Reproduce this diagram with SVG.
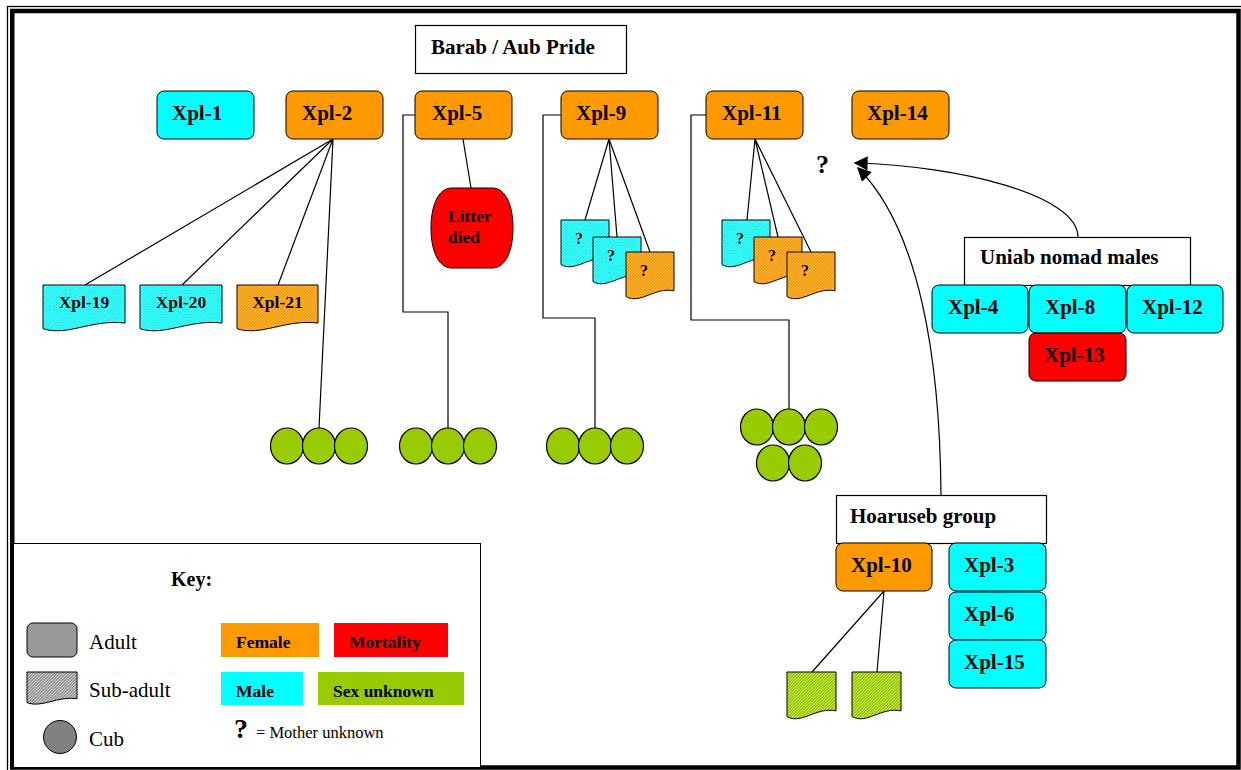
<svg xmlns="http://www.w3.org/2000/svg" width="1241" height="770" viewBox="0 0 1241 770">
<style>
.t{font-family:"Liberation Serif","Times New Roman",serif;font-weight:bold;fill:#000}
.l{font-size:21px}
.s{font-size:17.5px}
.q{font-size:16px}
.r{font-family:"Liberation Serif","Times New Roman",serif;font-size:21px;fill:#000}
.n{stroke:#000;stroke-width:1}
.c{fill:none;stroke:#000;stroke-width:1.2}
.box{fill:#fff;stroke:#000;stroke-width:1.2}
.cub{fill:#99CC00;stroke:#000;stroke-width:1.2}
</style>
<defs>
<pattern id="hc" width="3" height="3" patternUnits="userSpaceOnUse"><rect width="3" height="3" fill="#00FFFF"/><path d="M-1,1 L1,-1 M0,3 L3,0 M2,4 L4,2" stroke="#A8FFFF" stroke-width="0.8"/></pattern>
<pattern id="ho" width="3" height="3" patternUnits="userSpaceOnUse"><rect width="3" height="3" fill="#FF9900"/><path d="M-1,1 L1,-1 M0,3 L3,0 M2,4 L4,2" stroke="#FFC870" stroke-width="0.8"/></pattern>
<pattern id="hg" width="3" height="3" patternUnits="userSpaceOnUse"><rect width="3" height="3" fill="#99CC00"/><path d="M-1,1 L1,-1 M0,3 L3,0 M2,4 L4,2" stroke="#D0EC80" stroke-width="0.8"/></pattern>
<pattern id="hy" width="3" height="3" patternUnits="userSpaceOnUse"><rect width="3" height="3" fill="#999999"/><path d="M-1,1 L1,-1 M0,3 L3,0 M2,4 L4,2" stroke="#D8D8D8" stroke-width="0.8"/></pattern>
<marker id="ah" viewBox="0 0 10 10" refX="9" refY="5" markerWidth="16" markerHeight="14" markerUnits="userSpaceOnUse" orient="auto"><path d="M0,0 L10,5 L0,10 Z" fill="#000"/></marker>
</defs>
<rect x="0" y="0" width="1241" height="770" fill="#fff"/>
<rect x="7.5" y="6.5" width="1240" height="770" fill="none" stroke="#000" stroke-width="1.3"/>
<rect x="12.25" y="11" width="1226.25" height="756.5" fill="none" stroke="#000" stroke-width="4.5"/>

<g id="connectors">
<path class="c" d="M333,139 L85,285 M333,139 L182,285 M333,139 L278,285 M333,139 L319,428"/>
<path class="c" d="M463,139 L471,188"/>
<path class="c" d="M415,115 H403 V312 H448 V428"/>
<path class="c" d="M561,115 H543 V318 H595 V428"/>
<path class="c" d="M706,115 H691 V320 H789 V409"/>
<path class="c" d="M609,139 L585,220 M609,139 L617,237 M609,139 L650,252"/>
<path class="c" d="M755,139 L747,220 M755,139 L778,237 M755,139 L811,252"/>
<path class="c" d="M884,591 L812,672 M884,591 L877,672"/>
<path class="c" d="M1078,237 C1078,195 960,166 855,163" marker-end="url(#ah)"/>
<path class="c" d="M941,495 C940,360 920,230 858,168" marker-end="url(#ah)"/>
</g>

<g id="barab"><rect class="box" x="415.5" y="25.5" width="211" height="48"/><text class="t l" x="431" y="54">Barab / Aub Pride</text></g>

<g id="xpl1"><rect class="n" x="157" y="91" width="97" height="48" rx="7" fill="#00FFFF"/><text class="t l" x="172" y="120">Xpl-1</text></g>
<g id="xpl2"><rect class="n" x="286" y="91" width="97" height="48" rx="7" fill="#FF9900"/><text class="t l" x="302" y="120">Xpl-2</text></g>
<g id="xpl5"><rect class="n" x="415" y="91" width="97" height="48" rx="7" fill="#FF9900"/><text class="t l" x="432" y="120">Xpl-5</text></g>
<g id="xpl9"><rect class="n" x="561" y="91" width="97" height="48" rx="7" fill="#FF9900"/><text class="t l" x="576" y="120">Xpl-9</text></g>
<g id="xpl11"><rect class="n" x="706" y="91" width="97" height="48" rx="7" fill="#FF9900"/><text class="t l" x="722" y="120">Xpl-11</text></g>
<g id="xpl14"><rect class="n" x="852" y="91" width="97" height="48" rx="7" fill="#FF9900"/><text class="t l" x="867" y="120">Xpl-14</text></g>

<g id="qmark"><text class="t" style="font-size:26px" x="816" y="173">?</text></g>

<g id="xpl19"><path class="n" fill="url(#hc)" d="M43,285 H125 V323.1 C92.2,318.8 67.6,336.7 43,328.7 Z"/><text class="t s" x="84" y="308" text-anchor="middle">Xpl-19</text></g>
<g id="xpl20"><path class="n" fill="url(#hc)" d="M140,285 H222 V323.1 C189.2,318.8 164.6,336.7 140,328.7 Z"/><text class="t s" x="181" y="308" text-anchor="middle">Xpl-20</text></g>
<g id="xpl21"><path class="n" fill="url(#ho)" d="M237,285 H318 V323.1 C285.6,318.8 261.3,336.7 237,328.7 Z"/><text class="t s" x="277.5" y="308" text-anchor="middle">Xpl-21</text></g>

<g id="litter"><path class="n" fill="#FF0000" d="M452,188 L492,188 C507,188 513,208 513,228 C513,248 507,268 492,268 L452,268 C437,268 431,248 431,228 C431,208 437,188 452,188 Z"/><text class="t s" x="448" y="222">Litter</text><text class="t s" x="448" y="243">died</text></g>

<g id="sub9a"><path class="n" fill="url(#hc)" d="M561,220 H609 V258.9 C589.8,254.6 575.4,272.8 561,264.6 Z"/><text class="t q" x="579" y="244" text-anchor="middle">?</text></g>
<g id="sub9b"><path class="n" fill="url(#hc)" d="M593,237 H641 V275.9 C621.8,271.6 607.4,289.8 593,281.6 Z"/><text class="t q" x="611" y="261" text-anchor="middle">?</text></g>
<g id="sub9c"><path class="n" fill="url(#ho)" d="M626,252 H674 V290.9 C654.8,286.6 640.4,304.8 626,296.6 Z"/><text class="t q" x="644" y="276" text-anchor="middle">?</text></g>
<g id="sub11a"><path class="n" fill="url(#hc)" d="M722,220 H770 V258.9 C750.8,254.6 736.4,272.8 722,264.6 Z"/><text class="t q" x="740" y="244" text-anchor="middle">?</text></g>
<g id="sub11b"><path class="n" fill="url(#ho)" d="M754,237 H802 V275.9 C782.8,271.6 768.4,289.8 754,281.6 Z"/><text class="t q" x="772" y="261" text-anchor="middle">?</text></g>
<g id="sub11c"><path class="n" fill="url(#ho)" d="M787,252 H835 V290.9 C815.8,286.6 801.4,304.8 787,296.6 Z"/><text class="t q" x="805" y="276" text-anchor="middle">?</text></g>

<g id="cubs2"><ellipse class="cub" cx="287" cy="446" rx="16.5" ry="18"/><ellipse class="cub" cx="319" cy="446" rx="16.5" ry="18"/><ellipse class="cub" cx="351" cy="446" rx="16.5" ry="18"/></g>
<g id="cubs5"><ellipse class="cub" cx="416" cy="446" rx="16.5" ry="18"/><ellipse class="cub" cx="448" cy="446" rx="16.5" ry="18"/><ellipse class="cub" cx="480" cy="446" rx="16.5" ry="18"/></g>
<g id="cubs9"><ellipse class="cub" cx="563" cy="446" rx="16.5" ry="18"/><ellipse class="cub" cx="595" cy="446" rx="16.5" ry="18"/><ellipse class="cub" cx="627" cy="446" rx="16.5" ry="18"/></g>
<g id="cubs11"><ellipse class="cub" cx="757" cy="427" rx="16.5" ry="18"/><ellipse class="cub" cx="789" cy="427" rx="16.5" ry="18"/><ellipse class="cub" cx="821" cy="427" rx="16.5" ry="18"/><ellipse class="cub" cx="773" cy="463" rx="16.5" ry="18"/><ellipse class="cub" cx="805" cy="463" rx="16.5" ry="18"/></g>

<g id="uniab"><rect class="box" x="964.5" y="237.5" width="226" height="48"/><text class="t l" x="980" y="264">Uniab nomad males</text></g>
<g id="xpl4"><rect class="n" x="932" y="285" width="96" height="48" rx="7" fill="#00FFFF"/><text class="t l" x="948" y="314">Xpl-4</text></g>
<g id="xpl8"><rect class="n" x="1029" y="285" width="97" height="48" rx="7" fill="#00FFFF"/><text class="t l" x="1045" y="314">Xpl-8</text></g>
<g id="xpl12"><rect class="n" x="1127" y="285" width="96" height="48" rx="7" fill="#00FFFF"/><text class="t l" x="1142" y="314">Xpl-12</text></g>
<g id="xpl13"><rect class="n" x="1029" y="333" width="97" height="48" rx="7" fill="#FF0000"/><text class="t l" x="1044" y="362">Xpl-13</text></g>

<g id="hoaruseb"><rect class="box" x="836.5" y="495.5" width="210" height="48"/><text class="t l" x="850" y="523">Hoaruseb group</text></g>
<g id="xpl10"><rect class="n" x="836" y="543" width="96" height="48" rx="7" fill="#FF9900"/><text class="t l" x="851" y="572">Xpl-10</text></g>
<g id="xpl3"><rect class="n" x="949" y="543" width="97" height="48" rx="7" fill="#00FFFF"/><text class="t l" x="964" y="572">Xpl-3</text></g>
<g id="xpl6"><rect class="n" x="949" y="592" width="97" height="48" rx="7" fill="#00FFFF"/><text class="t l" x="964" y="621">Xpl-6</text></g>
<g id="xpl15"><rect class="n" x="949" y="640" width="97" height="48" rx="7" fill="#00FFFF"/><text class="t l" x="964" y="669">Xpl-15</text></g>
<g id="sub10a"><path class="n" fill="url(#hg)" d="M787,672 H836 V710.9 C816.4,706.6 801.7,724.8 787,716.6 Z"/></g>
<g id="sub10b"><path class="n" fill="url(#hg)" d="M852,672 H901 V710.9 C881.4,706.6 866.7,724.8 852,716.6 Z"/></g>

<g id="key">
<rect x="13.5" y="543.5" width="467" height="224" fill="#fff" stroke="#000" stroke-width="1"/>
<text class="t" style="font-size:20px" x="171" y="586">Key:</text>
<rect class="n" x="27" y="623" width="50" height="34" rx="6" fill="#999999"/>
<text class="r" x="89" y="649">Adult</text>
<path class="n" fill="url(#hy)" d="M27,672 H77 V698.7 C57,695.8 42,708.3 27,702.7 Z"/>
<text class="r" x="89" y="697">Sub-adult</text>
<circle class="n" cx="60" cy="737" r="16.5" fill="#808080"/>
<text class="r" x="89" y="746">Cub</text>
<rect x="221" y="623" width="98" height="34" fill="#FF9900"/>
<text class="t s" x="236" y="648">Female</text>
<rect x="334" y="623" width="114" height="34" fill="#FF0000"/>
<text class="t s" x="349" y="648">Mortality</text>
<rect x="221" y="672" width="82" height="33" fill="#00FFFF"/>
<text class="t s" x="236" y="697">Male</text>
<rect x="318" y="672" width="146" height="33" fill="#99CC00"/>
<text class="t s" x="333" y="697">Sex unknown</text>
<text class="t" style="font-size:28px" x="234" y="738">?</text>
<text style="font-family:'Liberation Serif','Times New Roman',serif;font-size:16.5px" x="256" y="738">= Mother unknown</text>
</g>
</svg>
